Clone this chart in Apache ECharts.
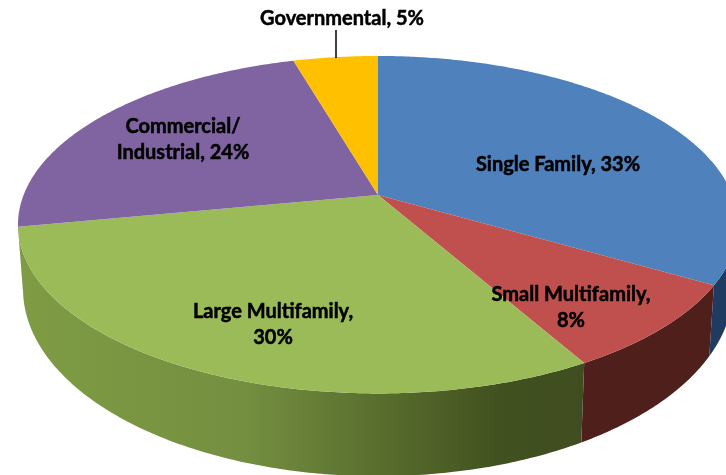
<!DOCTYPE html>
<html>
<head>
<meta charset="utf-8">
<style>html,body{margin:0;padding:0;background:#fff}#chart{width:726px;height:475px}</style>
<script src="https://cdn.jsdelivr.net/npm/echarts@6/dist/echarts.min.js"></script>
</head>
<body>
<div id="chart"></div>
<script>
// Data (shares in percent; labels show them rounded)
const categories = ['Single Family', 'Small Multifamily', 'Large Multifamily', 'Commercial/\nIndustrial', 'Governmental'];
const values = [33.4, 8.4, 30.2, 23.5, 4.5];

// Styles
const topColors = ['#4f81bd', '#c0504d', '#9bbb59', '#8064a2', '#ffc000'];
const wallColors = [
  [[0, '#1f3b5f'], [1, '#1f3b5f']],
  [[0, '#4f1f1c'], [1, '#4f1f1c']],
  [[0, '#7f9c44'], [0.4, '#748f40'], [0.62, '#5b702f'], [0.85, '#42511f'], [1, '#3f4d20']],
  [[0, '#5d4a78'], [1, '#5d4a78']],
  [[0, '#a88000'], [1, '#a88000']]
];
// Layout of the perspective disc
const apex = [378, 195], radX = 354.4, radY = 163.5, persp = 0.176;
const wallScaleX = 0.986, wallScaleY = 1.11, wallShift = 39.5;
const frontFrom = Math.acos(-persp), frontTo = 2 * Math.PI - frontFrom;
const labelBoxes = [[558, 165], [571, 308], [273, 325], [183, 140], [342, 19]];
const leader = [[336, 30], [336, 58]];

function project(a) {            // a: clockwise from the far point
  const u = Math.sin(a), v = Math.cos(a), w = 1 + persp * v;
  return [apex[0] + radX * u / w, apex[1] - radY * v / w];
}
function projectBase(a) {
  const p = project(a);
  return [apex[0] + (p[0] - apex[0]) * wallScaleX, p[1] * wallScaleY + wallShift];
}
function arc(fn, a0, a1) {
  const n = Math.max(2, Math.ceil(Math.abs(a1 - a0) / 0.01)), pts = [];
  for (let i = 0; i <= n; i++) pts.push(fn(a0 + (a1 - a0) * i / n));
  return pts;
}
const total = values.reduce((s, v) => s + v, 0);
const starts = [];
values.reduce((s, v, i) => { starts[i] = s; return s + v; }, 0);
const angle = p => p / total * 2 * Math.PI;

function renderSlice(params) {
  const i = params.dataIndex;
  const a0 = angle(starts[i]), a1 = angle(starts[i] + values[i]);
  const children = [];
  const w0 = Math.max(a0, frontFrom), w1 = Math.min(a1, frontTo);
  if (w1 > w0) {
    const pts = arc(project, w0, w1).concat(arc(projectBase, w0, w1).reverse());
    children.push({
      type: 'polygon', shape: { points: pts },
      style: {
        fill: new echarts.graphic.LinearGradient(0, 0, 1, 0,
          wallColors[i].map(s => ({ offset: s[0], color: s[1] })))
      }
    });
  }
  children.push({
    type: 'polygon',
    shape: { points: [apex].concat(arc(project, a0, a1)) },
    style: { fill: topColors[i] }
  });
  return { type: 'group', children };
}
function renderLabel(params) {
  const i = params.dataIndex;
  const c = labelBoxes[i];
  const text = categories[i] + ', ' + Math.round(values[i]) + '%';
  const wrapped = i === 1 || i === 2 ? text.replace(', ', ',\n') : text;
  const children = [{
    type: 'text',
    style: {
      text: wrapped, x: c[0], y: c[1], align: 'center', verticalAlign: 'middle',
      fontFamily: 'Lato', fontWeight: 'bold', fontSize: 20, lineHeight: 26,
      fill: '#000', stroke: '#000', lineWidth: 0.5
    }
  }];
  if (i === 4) {
    children.push({
      type: 'line',
      shape: { x1: leader[0][0], y1: leader[0][1], x2: leader[1][0], y2: leader[1][1] },
      style: { stroke: '#000', lineWidth: 1.5 }
    });
  }
  return { type: 'group', children };
}
const chart = echarts.init(document.getElementById('chart'), null, { renderer: 'canvas' });
chart.setOption({
  animation: false,
  backgroundColor: '#fff',
  series: [
    { type: 'custom', coordinateSystem: 'none', renderItem: renderSlice, data: values, z: 1, silent: true },
    { type: 'custom', coordinateSystem: 'none', renderItem: renderLabel, data: values, z: 2, silent: true }
  ]
});
</script>
</body>
</html>
